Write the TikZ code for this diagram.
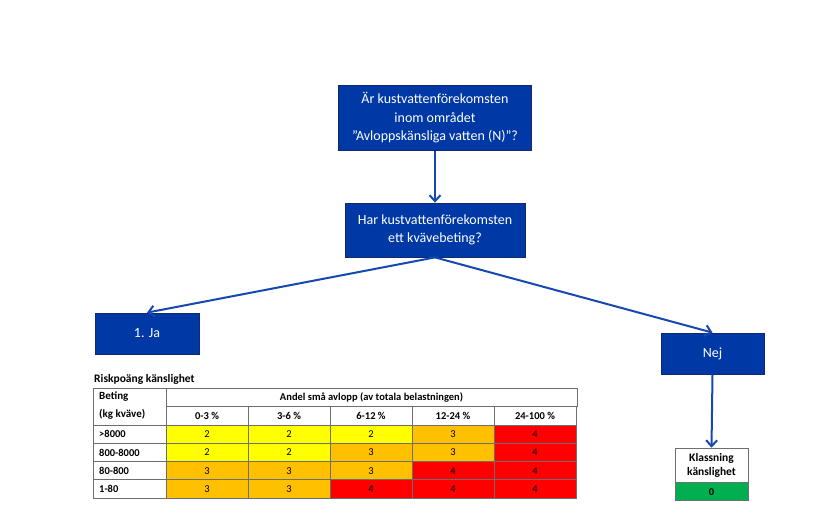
\documentclass[tikz,border=0pt]{standalone}
\usepackage{fontspec}
\setmainfont{Carlito}
\usetikzlibrary{arrows.meta}
\definecolor{boxblue}{RGB}{0,57,166}
\definecolor{boxedge}{RGB}{20,40,110}
\definecolor{arrowblue}{RGB}{22,72,178}
\definecolor{risk2}{RGB}{255,255,0}
\definecolor{risk3}{RGB}{255,192,0}
\definecolor{risk4}{RGB}{255,0,0}
\definecolor{riskgreen}{RGB}{0,176,80}
\definecolor{gridgray}{RGB}{110,110,110}
\begin{document}
\begin{tikzpicture}[x=1pt,y=-1pt,
  fraga/.style={draw=boxedge,fill=boxblue,text=white,align=center,
    font=\fontsize{14}{18.5}\selectfont,inner sep=0pt,line width=0.8pt},
  pil/.style={draw=arrowblue,line width=2pt,-{Straight Barb[length=6pt,width=11pt]}},
  cell/.style={draw=gridgray,line width=0.6pt},
  tabtext/.style={font=\fontsize{10.5}{12}\bfseries\selectfont,inner sep=0pt}]

\useasboundingbox (0,0) rectangle (829,515);

% Frågor
\node[fraga,minimum width=193pt,minimum height=65pt] (omrade) at (435,118)
{Är kustvattenförekomsten\\inom området\\”Avloppskänsliga vatten (N)”?};

\node[fraga,minimum width=180pt,minimum height=54pt] (beting) at (435,230)
{Har kustvattenförekomsten\\ett kvävebeting?};

% Svar
\node[fraga,minimum width=104pt,minimum height=41pt] (ja) at (147,333.5)
{1. Ja};

\node[fraga,minimum width=103pt,minimum height=41pt] (nej) at (712.5,353.5)
{Nej};

% Klassning
\node[cell,fill=white,tabtext,font=\fontsize{11.5}{14}\bfseries\selectfont,align=center,
  minimum width=73pt,minimum height=34pt] (klass) at (711.5,465)
{Klassning\\känslighet};

\node[cell,fill=riskgreen,tabtext,minimum width=73pt,minimum height=18pt,anchor=north] (noll) at (klass.south)
{0};

% Pilar
\draw[pil] (omrade.south) -- (beting.north);
\draw[pil] (beting.south) -- (ja.north);
\draw[pil] (beting.south) -- (nej.north);
\draw[pil] (nej.south) -- (klass.north);

% Tabell
\node[tabtext,font=\fontsize{11.5}{14}\bfseries\selectfont,anchor=west] (rubrik) at (94,379)
{Riskpoäng känslighet};

\draw[cell] (93,388) rectangle (166,425);
\draw[cell] (166,388) rectangle (577,406);
\node[tabtext,font=\fontsize{11}{12}\bfseries\selectfont,anchor=west] at (99,397) {Beting};
\node[tabtext,font=\fontsize{11}{12}\bfseries\selectfont,anchor=west] at (99,414) {(kg kväve)};
\node[tabtext] at (371.5,397) {Andel små avlopp (av totala belastningen)};

\foreach \andel [count=\c] in {0-3 \%,3-6 \%,6-12 \%,12-24 \%,24-100 \%}{
  \draw[cell] (84+82*\c,406) rectangle ++(82,19);
  \node[tabtext] at (125+82*\c,415.5) {\andel};
}

\foreach \r/\etikett/\varden in {1/>8000/{2,2,2,3,4},2/800-8000/{2,2,3,3,4},
                                 3/80-800/{3,3,3,4,4},4/1-80/{3,3,4,4,4}}{
  \draw[cell] (93,406.75+18.25*\r) rectangle ++(73,18.25);
  \node[tabtext,anchor=west] at (99,416+18.25*\r) {\etikett};
  \foreach \v [count=\c] in \varden {
    \draw[cell,fill=risk\v] (84+82*\c,406.75+18.25*\r) rectangle ++(82,18.25);
    \node[tabtext,font=\fontsize{10.5}{12}\selectfont] at (125+82*\c,416+18.25*\r) {\v};
  }
}

\end{tikzpicture}
\end{document}
